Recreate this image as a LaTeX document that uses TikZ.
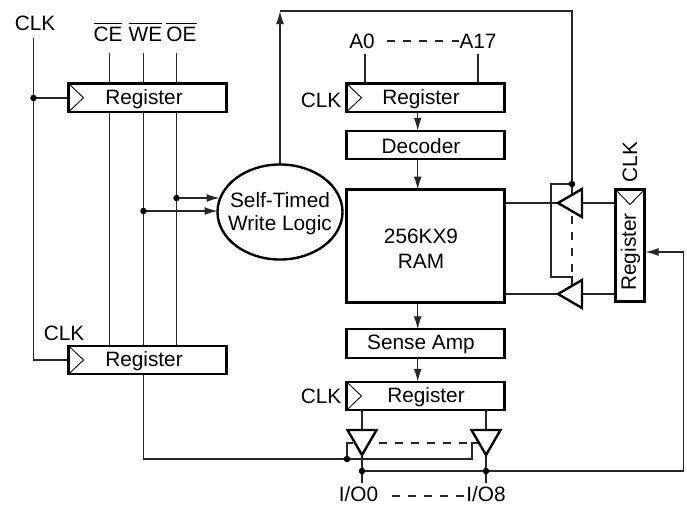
\documentclass[tikz,border=0pt]{standalone}
\usepackage{fontspec}
\setmainfont{Liberation Sans}
\usetikzlibrary{arrows.meta,shapes.geometric,backgrounds}
\tikzset{
  box/.style={draw=black,fill=white,line width=2.4pt,rectangle,outer sep=0pt,inner sep=0pt},
  txt/.style={inner sep=0pt,font=\fontsize{20.8}{24}\selectfont},
  wire/.style={draw=black!85,line width=1.25pt},
  clkmark/.style={draw=black,line width=0.9pt},
  buf/.style={draw=black,fill=white,line width=2.4pt,line join=miter},
  dashwire/.style={wire,dash pattern=on 8pt off 8pt},
  arr/.style={wire,-{Latex[length=13pt,width=8pt]}},
  jdot/.style={circle,fill=black,inner sep=0pt,minimum size=6.5pt,outer sep=0pt}
}
\newcommand{\barlabel}[1]{$\overline{\rule{0pt}{16.6pt}\mbox{#1}}$}
\begin{document}
\begin{tikzpicture}[x=1pt,y=-1pt]
\useasboundingbox (0,0) rectangle (687,504);
% boxes
\node[box,minimum width=158pt,minimum height=28.5pt] (r1) at (147.5,97.75) {};
\node[box,minimum width=158pt,minimum height=28.5pt] (r2) at (147.5,360) {};
\node[box,minimum width=158pt,minimum height=28.5pt] (ra) at (425.5,97.75) {};
\node[box,minimum width=158pt,minimum height=28.5pt] (dec) at (425.5,145) {};
\node[box,minimum width=158pt,minimum height=113pt] (ram) at (425.5,246) {};
\node[box,minimum width=158pt,minimum height=28.5pt] (sa) at (425.5,343.5) {};
\node[box,minimum width=158pt,minimum height=28.5pt] (rq) at (425.5,396) {};
\node[box,minimum width=29pt,minimum height=112pt] (rr) at (630,245.5) {};
\node[draw=black,fill=white,line width=2.4pt,ellipse,outer sep=0pt,inner sep=0pt,minimum width=125pt,minimum height=95pt] (e) at (280,212) {};
% clock marks
\draw[clkmark] (r1.north west) -- ++(15,14.25) -- (r1.south west);
\draw[clkmark] (r2.north west) -- ++(15,14.25) -- (r2.south west);
\draw[clkmark] (ra.north west) -- ++(15,14.25) -- (ra.south west);
\draw[clkmark] (rq.north west) -- ++(15,14.25) -- (rq.south west);
\draw[clkmark] (rr.north west) -- ++(14.5,15) -- (rr.north east);
% buffers
\coordinate (bu) at (558,203);
\coordinate (bl) at (558,294);
\coordinate (b0) at (362,455);
\coordinate (b8) at (486,455);
\draw[buf] (bu) -- (582,189) -- (582,217) -- cycle;
\draw[buf] (bl) -- (582,280) -- (582,308) -- cycle;
\draw[buf] (b0) -- (347.5,430) -- (376.5,430) -- cycle;
\draw[buf] (b8) -- (471.5,430) -- (500.5,430) -- cycle;
% text
\node[txt] (clk1) at (35,23.5) {CLK};
\node[txt,anchor=base] (ce) at (108,41) {\barlabel{CE}};
\node[txt,anchor=base] (we) at (145.5,41) {\barlabel{WE}};
\node[txt,anchor=base] (oe) at (181.5,41) {\barlabel{OE}};
\node[txt] (r1t) at (144,99) {Register};
\node[txt] (r2t) at (144,361.5) {Register};
\node[txt] (clk2) at (64,333) {CLK};
\node[txt] (a0) at (362,41) {A0};
\node[txt] (a17) at (478,41) {A17};
\node[txt] (clk3) at (321,100) {CLK};
\node[txt] (rat) at (421,99) {Register};
\node[txt] (dect) at (421,146) {Decoder};
\node[txt] (ramt1) at (421,236) {256KX9};
\node[txt] (ramt2) at (421,261) {RAM};
\node[txt] (sat) at (421,344.5) {Sense Amp};
\node[txt] (clk4) at (321,396) {CLK};
\node[txt] (rqt) at (426,397) {Register};
\node[txt] (io0) at (358.5,494.5) {I/O0};
\node[txt] (io8) at (486,494.5) {I/O8};
\node[txt] (et1) at (280,200) {Self-Timed};
\node[txt] (et2) at (280,225) {Write Logic};
\node[txt,rotate=90] (clk5) at (630,162) {CLK};
\node[txt,rotate=90] (rrt) at (630.5,252) {Register};
% wires
\begin{scope}[on background layer]
\coordinate (clktop) at (33.5,38);
\coordinate (clkj) at (33.5,98);
\coordinate (clkb) at (33.5,360);
\coordinate (cet) at (109.5,53);
\coordinate (wet) at (143.5,53);
\coordinate (oet) at (176.5,53);
\coordinate (oej) at (176.5,198);
\coordinate (wej) at (143.5,211);
\coordinate (ei1) at (219.5,198);
\coordinate (ei2) at (217.5,211);
\draw[wire] (clktop) -- (clkb) -- (r2.west);
\draw[wire] (clkj) -- (clkj -| r1.west);
\draw[wire] (cet) -- (cet |- r2.north);
\draw[wire] (wet) -- (wet |- r2.north);
\draw[wire] (oet) -- (oet |- r2.north);
\draw[arr] (oej) -- (ei1);
\draw[arr] (wej) -- (ei2);
\coordinate (top1) at (280,11);
\coordinate (top2) at (572,11);
\coordinate (uj) at (572,184);
\draw[arr] (e.north) -- (top1);
\draw[wire] (top1) -- (top2) -- (uj) -- (572,196);
\coordinate (ul) at (551,184);
\coordinate (ll) at (551,277);
\coordinate (lr) at (572,277);
\draw[wire] (uj) -- (ul) -- (ll) -- (lr) -- (572,285);
\draw[dashwire] (572,216) -- (572,277);
\coordinate (a0b) at (365,54);
\coordinate (a17b) at (478,54);
\draw[wire] (a0b) -- (a0b |- ra.north);
\draw[wire] (a17b) -- (a17b |- ra.north);
\draw[dashwire,dash pattern=on 8pt off 8.3pt] (386.5,41) -- (458.5,41);
\draw[arr] (417.7,112) -- (417.7,130.75);
\draw[arr] (417.7,159.25) -- (417.7,189.5);
\draw[arr] (417.7,302.5) -- (417.7,329.25);
\draw[arr] (417.7,357.75) -- (417.7,381.75);
\draw[wire] (505,203) -- (bu);
\draw[wire] (505,294) -- (bl);
\draw[wire] (582,203) -- (615,203);
\draw[wire] (582,294) -- (615,294);
\coordinate (rin) at (645.5,252);
\coordinate (rc) at (683.5,252);
\coordinate (rb) at (683.5,471);
\coordinate (j0) at (362,471);
\coordinate (j8) at (486,471);
\draw[arr] (rb) -- (rc) -- (rin);
\draw[wire] (j0) -- (rb);
\draw[wire] (362,411) -- (362,431);
\draw[wire] (486,411) -- (486,431);
\draw[wire] (b0) -- (362,483);
\draw[wire] (b8) -- (486,483);
\coordinate (en) at (143.5,459);
\coordinate (enj) at (347,459);
\draw[wire] (en |- r2.south) -- (en) -- (472,459) -- (472,443) -- (478,443);
\draw[wire] (enj) -- (347,443) -- (353,443);
\draw[dashwire] (379,443) -- (472,443);
\draw[dashwire] (392,496) -- (466,496);
\end{scope}
\node[jdot] (d1) at (clkj) {};
\node[jdot] (d2) at (oej) {};
\node[jdot] (d3) at (wej) {};
\node[jdot] (d4) at (uj) {};
\node[jdot] (d5) at (enj) {};
\node[jdot] (d6) at (j0) {};
\node[jdot] (d7) at (j8) {};
\end{tikzpicture}
\end{document}
